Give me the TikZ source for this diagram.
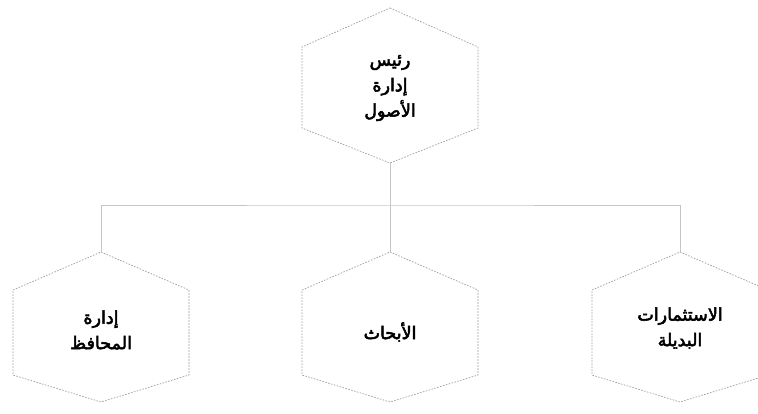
\documentclass[tikz,border=0pt]{standalone}
\usepackage{fontspec}
\TeXXeTstate=1
\newfontfamily\arabicfont[Script=Arabic,FakeBold=3]{DejaVu Sans}
\newcommand\arl[1]{\beginR #1\endR}
\begin{document}
\begin{tikzpicture}[x=1pt,y=-1pt,
  hexline/.style={draw=gray!75, line width=0.7pt, dash pattern=on 1.6pt off 1.4pt},
  conn/.style={draw=gray!45, line width=0.8pt},
  lbl/.style={align=center, font=\arabicfont\fontsize{17.5}{25.5}\selectfont, inner sep=0pt}]
\useasboundingbox (0,0) rectangle (758,413);
\clip (0,0) rectangle (758,413);
% top hexagon
\coordinate (topT) at (390,8);
\coordinate (topB) at (390,163);
\draw[hexline] (topT) -- (478,47) -- (478,128) -- (topB) -- (302,128) -- (302,47) -- cycle;
\node[lbl] (head) at (390,88) {\arl{رئيس}\\\arl{إدارة}\\\arl{الأصول}};
% bottom hexagons
\foreach \n/\cx in {L/101, M/390, R/680}{
  \coordinate (\n T) at (\cx,252);
  \draw[hexline] (\n T) -- (\cx+88,290) -- (\cx+88,375) -- (\cx,402) -- (\cx-88,375) -- (\cx-88,290) -- cycle;
}
\node[lbl] (left) at (101,330) {\arl{إدارة}\\\arl{المحافظ}};
\node[lbl] (mid) at (390,332) {\arl{الأبحاث}};
\node[lbl] (right) at (680,328) {\arl{الاستثمارات}\\\arl{البديلة}};
% connectors
\coordinate (bus) at (390,205);
\draw[conn] (topB) -- (bus);
\draw[conn] (LT) |- (bus) -| (RT);
\draw[conn] (bus) -- (MT);
\end{tikzpicture}
\end{document}
